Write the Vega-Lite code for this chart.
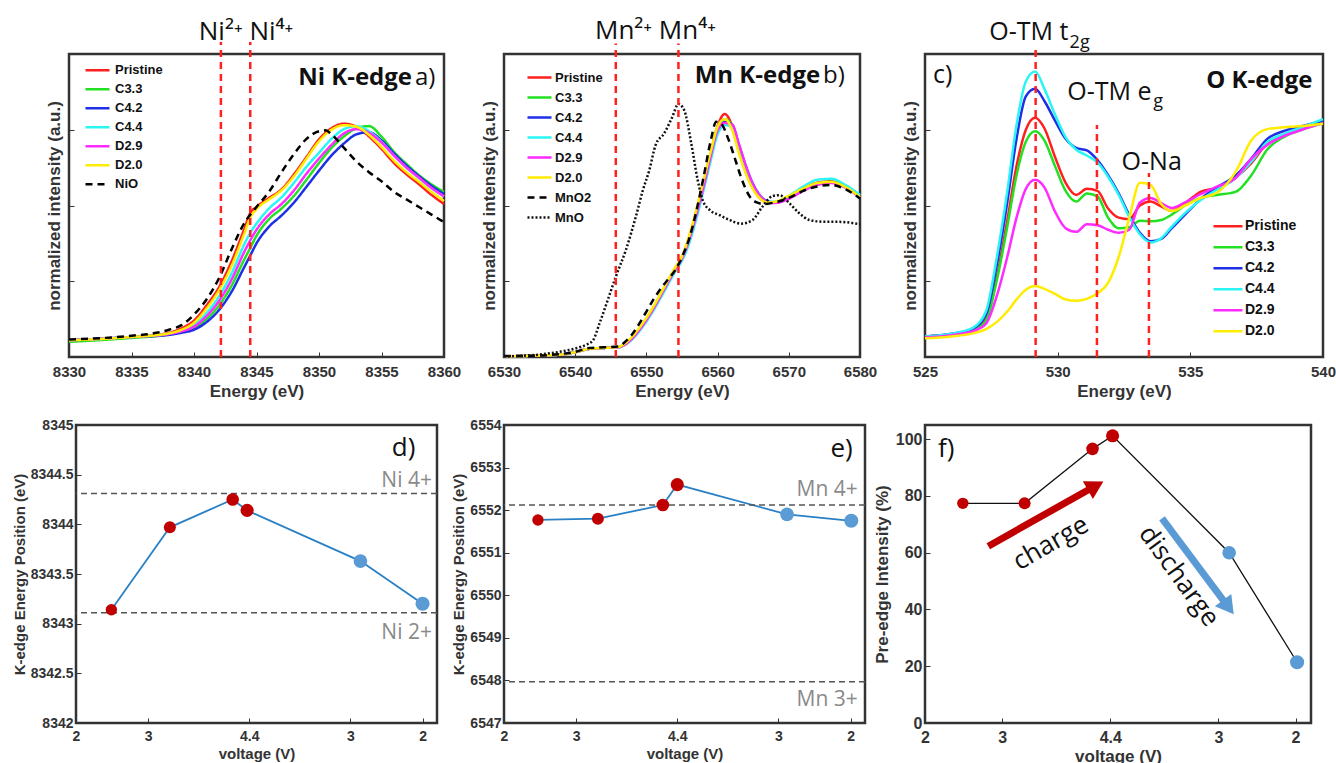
{
"$schema": "https://vega.github.io/schema/vega-lite/v6.json",
"background": "white",
"padding": {"left": 10, "top": 16, "right": 5, "bottom": 0},
"columns": 3,
"spacing": {"row": 68, "column": 60},
"bounds": "flush",
"center": true,
"resolve": {"scale": {"color": "independent", "strokeDash": "independent", "size": "independent"}},
"config": {
 "view": {"stroke": "#333333", "strokeWidth": 2.5},
 "axis": {"grid": false, "domain": false, "tickSize": -5, "tickColor": "#333333", "tickWidth": 1, "labelFont": "Liberation Sans", "labelFontWeight": "bold", "labelColor": "#333333", "titleFont": "Liberation Sans", "titleFontWeight": "bold", "titleColor": "#333333", "labelFlush": false, "labelOverlap": false},
 "legend": {"symbolType": "stroke", "symbolStrokeWidth": 2.5, "labelFont": "Liberation Sans", "labelFontWeight": "bold", "labelColor": "#111111", "padding": 0, "rowPadding": 0},
 "text": {"font": "Open Sans"}
},
"datasets": {
"ni": [
{"s":"Pristine","E":8330,"I":0.055},{"s":"Pristine","E":8335,"I":0.066},{"s":"Pristine","E":8338,"I":0.08},{"s":"Pristine","E":8339,"I":0.095},{"s":"Pristine","E":8340,"I":0.12},{"s":"Pristine","E":8341,"I":0.17},{"s":"Pristine","E":8342,"I":0.23},{"s":"Pristine","E":8343,"I":0.315},{"s":"Pristine","E":8344,"I":0.42},{"s":"Pristine","E":8344.5,"I":0.475},{"s":"Pristine","E":8345,"I":0.495},{"s":"Pristine","E":8346,"I":0.525},{"s":"Pristine","E":8347,"I":0.553},{"s":"Pristine","E":8348,"I":0.603},{"s":"Pristine","E":8349,"I":0.66},{"s":"Pristine","E":8350,"I":0.718},{"s":"Pristine","E":8351,"I":0.755},{"s":"Pristine","E":8352,"I":0.77},{"s":"Pristine","E":8353,"I":0.76},{"s":"Pristine","E":8354,"I":0.728},{"s":"Pristine","E":8355,"I":0.687},{"s":"Pristine","E":8356,"I":0.64},{"s":"Pristine","E":8357,"I":0.603},{"s":"Pristine","E":8358,"I":0.57},{"s":"Pristine","E":8359,"I":0.535},{"s":"Pristine","E":8360,"I":0.505},
{"s":"C3.3","E":8330,"I":0.05},{"s":"C3.3","E":8335,"I":0.063},{"s":"C3.3","E":8338,"I":0.074},{"s":"C3.3","E":8339,"I":0.082},{"s":"C3.3","E":8340,"I":0.095},{"s":"C3.3","E":8341,"I":0.125},{"s":"C3.3","E":8342,"I":0.17},{"s":"C3.3","E":8343,"I":0.235},{"s":"C3.3","E":8344,"I":0.32},{"s":"C3.3","E":8344.5,"I":0.36},{"s":"C3.3","E":8345,"I":0.4},{"s":"C3.3","E":8346,"I":0.455},{"s":"C3.3","E":8347,"I":0.49},{"s":"C3.3","E":8348,"I":0.532},{"s":"C3.3","E":8349,"I":0.585},{"s":"C3.3","E":8350,"I":0.64},{"s":"C3.3","E":8351,"I":0.69},{"s":"C3.3","E":8352,"I":0.728},{"s":"C3.3","E":8353,"I":0.755},{"s":"C3.3","E":8354,"I":0.762},{"s":"C3.3","E":8355,"I":0.727},{"s":"C3.3","E":8356,"I":0.677},{"s":"C3.3","E":8357,"I":0.637},{"s":"C3.3","E":8358,"I":0.6},{"s":"C3.3","E":8359,"I":0.57},{"s":"C3.3","E":8360,"I":0.545},
{"s":"C4.2","E":8330,"I":0.055},{"s":"C4.2","E":8335,"I":0.066},{"s":"C4.2","E":8338,"I":0.073},{"s":"C4.2","E":8339,"I":0.08},{"s":"C4.2","E":8340,"I":0.09},{"s":"C4.2","E":8341,"I":0.115},{"s":"C4.2","E":8342,"I":0.155},{"s":"C4.2","E":8343,"I":0.215},{"s":"C4.2","E":8344,"I":0.295},{"s":"C4.2","E":8344.5,"I":0.335},{"s":"C4.2","E":8345,"I":0.375},{"s":"C4.2","E":8346,"I":0.43},{"s":"C4.2","E":8347,"I":0.467},{"s":"C4.2","E":8348,"I":0.51},{"s":"C4.2","E":8349,"I":0.562},{"s":"C4.2","E":8350,"I":0.615},{"s":"C4.2","E":8351,"I":0.665},{"s":"C4.2","E":8352,"I":0.705},{"s":"C4.2","E":8353,"I":0.735},{"s":"C4.2","E":8354,"I":0.742},{"s":"C4.2","E":8355,"I":0.715},{"s":"C4.2","E":8356,"I":0.672},{"s":"C4.2","E":8357,"I":0.632},{"s":"C4.2","E":8358,"I":0.597},{"s":"C4.2","E":8359,"I":0.565},{"s":"C4.2","E":8360,"I":0.538},
{"s":"C4.4","E":8330,"I":0.055},{"s":"C4.4","E":8335,"I":0.066},{"s":"C4.4","E":8338,"I":0.077},{"s":"C4.4","E":8339,"I":0.087},{"s":"C4.4","E":8340,"I":0.105},{"s":"C4.4","E":8341,"I":0.145},{"s":"C4.4","E":8342,"I":0.2},{"s":"C4.4","E":8343,"I":0.275},{"s":"C4.4","E":8344,"I":0.37},{"s":"C4.4","E":8344.5,"I":0.41},{"s":"C4.4","E":8345,"I":0.44},{"s":"C4.4","E":8346,"I":0.49},{"s":"C4.4","E":8347,"I":0.527},{"s":"C4.4","E":8348,"I":0.575},{"s":"C4.4","E":8349,"I":0.628},{"s":"C4.4","E":8350,"I":0.674},{"s":"C4.4","E":8351,"I":0.72},{"s":"C4.4","E":8352,"I":0.752},{"s":"C4.4","E":8353,"I":0.762},{"s":"C4.4","E":8354,"I":0.745},{"s":"C4.4","E":8355,"I":0.71},{"s":"C4.4","E":8356,"I":0.665},{"s":"C4.4","E":8357,"I":0.625},{"s":"C4.4","E":8358,"I":0.59},{"s":"C4.4","E":8359,"I":0.557},{"s":"C4.4","E":8360,"I":0.53},
{"s":"D2.9","E":8330,"I":0.055},{"s":"D2.9","E":8335,"I":0.066},{"s":"D2.9","E":8338,"I":0.076},{"s":"D2.9","E":8339,"I":0.085},{"s":"D2.9","E":8340,"I":0.1},{"s":"D2.9","E":8341,"I":0.135},{"s":"D2.9","E":8342,"I":0.185},{"s":"D2.9","E":8343,"I":0.255},{"s":"D2.9","E":8344,"I":0.345},{"s":"D2.9","E":8344.5,"I":0.385},{"s":"D2.9","E":8345,"I":0.42},{"s":"D2.9","E":8346,"I":0.47},{"s":"D2.9","E":8347,"I":0.505},{"s":"D2.9","E":8348,"I":0.55},{"s":"D2.9","E":8349,"I":0.605},{"s":"D2.9","E":8350,"I":0.655},{"s":"D2.9","E":8351,"I":0.7},{"s":"D2.9","E":8352,"I":0.738},{"s":"D2.9","E":8353,"I":0.752},{"s":"D2.9","E":8354,"I":0.74},{"s":"D2.9","E":8355,"I":0.708},{"s":"D2.9","E":8356,"I":0.665},{"s":"D2.9","E":8357,"I":0.625},{"s":"D2.9","E":8358,"I":0.592},{"s":"D2.9","E":8359,"I":0.558},{"s":"D2.9","E":8360,"I":0.53},
{"s":"D2.0","E":8330,"I":0.055},{"s":"D2.0","E":8335,"I":0.066},{"s":"D2.0","E":8338,"I":0.078},{"s":"D2.0","E":8339,"I":0.09},{"s":"D2.0","E":8340,"I":0.113},{"s":"D2.0","E":8341,"I":0.16},{"s":"D2.0","E":8342,"I":0.22},{"s":"D2.0","E":8343,"I":0.3},{"s":"D2.0","E":8344,"I":0.405},{"s":"D2.0","E":8344.5,"I":0.46},{"s":"D2.0","E":8345,"I":0.488},{"s":"D2.0","E":8346,"I":0.52},{"s":"D2.0","E":8347,"I":0.55},{"s":"D2.0","E":8348,"I":0.597},{"s":"D2.0","E":8349,"I":0.655},{"s":"D2.0","E":8350,"I":0.712},{"s":"D2.0","E":8351,"I":0.75},{"s":"D2.0","E":8352,"I":0.765},{"s":"D2.0","E":8353,"I":0.76},{"s":"D2.0","E":8354,"I":0.733},{"s":"D2.0","E":8355,"I":0.693},{"s":"D2.0","E":8356,"I":0.648},{"s":"D2.0","E":8357,"I":0.61},{"s":"D2.0","E":8358,"I":0.578},{"s":"D2.0","E":8359,"I":0.545},{"s":"D2.0","E":8360,"I":0.515},
{"s":"NiO","E":8330,"I":0.058},{"s":"NiO","E":8335,"I":0.07},{"s":"NiO","E":8337,"I":0.08},{"s":"NiO","E":8338,"I":0.09},{"s":"NiO","E":8339,"I":0.105},{"s":"NiO","E":8340,"I":0.14},{"s":"NiO","E":8341,"I":0.19},{"s":"NiO","E":8342,"I":0.26},{"s":"NiO","E":8343,"I":0.355},{"s":"NiO","E":8344,"I":0.44},{"s":"NiO","E":8345,"I":0.495},{"s":"NiO","E":8346,"I":0.545},{"s":"NiO","E":8347,"I":0.61},{"s":"NiO","E":8348,"I":0.67},{"s":"NiO","E":8349,"I":0.72},{"s":"NiO","E":8350,"I":0.745},{"s":"NiO","E":8350.5,"I":0.748},{"s":"NiO","E":8351,"I":0.735},{"s":"NiO","E":8352,"I":0.69},{"s":"NiO","E":8353,"I":0.645},{"s":"NiO","E":8354,"I":0.61},{"s":"NiO","E":8355,"I":0.58},{"s":"NiO","E":8356,"I":0.545},{"s":"NiO","E":8357,"I":0.52},{"s":"NiO","E":8358,"I":0.495},{"s":"NiO","E":8359,"I":0.47},{"s":"NiO","E":8360,"I":0.445}
],
"mn": [
{"s":"Pristine","E":6530,"I":0.002},{"s":"Pristine","E":6535,"I":0.005},{"s":"Pristine","E":6538,"I":0.008},{"s":"Pristine","E":6540,"I":0.016},{"s":"Pristine","E":6542,"I":0.027},{"s":"Pristine","E":6544,"I":0.03},{"s":"Pristine","E":6546,"I":0.032},{"s":"Pristine","E":6547,"I":0.042},{"s":"Pristine","E":6548,"I":0.063},{"s":"Pristine","E":6549,"I":0.092},{"s":"Pristine","E":6550,"I":0.125},{"s":"Pristine","E":6551,"I":0.163},{"s":"Pristine","E":6552,"I":0.205},{"s":"Pristine","E":6553,"I":0.248},{"s":"Pristine","E":6554,"I":0.29},{"s":"Pristine","E":6555,"I":0.33},{"s":"Pristine","E":6556,"I":0.395},{"s":"Pristine","E":6557,"I":0.478},{"s":"Pristine","E":6558,"I":0.572},{"s":"Pristine","E":6559,"I":0.67},{"s":"Pristine","E":6560,"I":0.762},{"s":"Pristine","E":6561,"I":0.802},{"s":"Pristine","E":6562,"I":0.765},{"s":"Pristine","E":6563,"I":0.68},{"s":"Pristine","E":6564,"I":0.608},{"s":"Pristine","E":6565,"I":0.556},{"s":"Pristine","E":6566,"I":0.523},{"s":"Pristine","E":6567,"I":0.51},{"s":"Pristine","E":6568,"I":0.51},{"s":"Pristine","E":6570,"I":0.53},{"s":"Pristine","E":6572,"I":0.556},{"s":"Pristine","E":6574,"I":0.575},{"s":"Pristine","E":6576,"I":0.58},{"s":"Pristine","E":6578,"I":0.562},{"s":"Pristine","E":6580,"I":0.53},
{"s":"C3.3","E":6530,"I":0.002},{"s":"C3.3","E":6535,"I":0.005},{"s":"C3.3","E":6538,"I":0.008},{"s":"C3.3","E":6540,"I":0.016},{"s":"C3.3","E":6542,"I":0.027},{"s":"C3.3","E":6544,"I":0.03},{"s":"C3.3","E":6546,"I":0.032},{"s":"C3.3","E":6547,"I":0.042},{"s":"C3.3","E":6548,"I":0.063},{"s":"C3.3","E":6549,"I":0.092},{"s":"C3.3","E":6550,"I":0.125},{"s":"C3.3","E":6551,"I":0.163},{"s":"C3.3","E":6552,"I":0.205},{"s":"C3.3","E":6553,"I":0.248},{"s":"C3.3","E":6554,"I":0.29},{"s":"C3.3","E":6555,"I":0.328},{"s":"C3.3","E":6556,"I":0.39},{"s":"C3.3","E":6557,"I":0.472},{"s":"C3.3","E":6558,"I":0.566},{"s":"C3.3","E":6559,"I":0.665},{"s":"C3.3","E":6560,"I":0.752},{"s":"C3.3","E":6561,"I":0.785},{"s":"C3.3","E":6562,"I":0.765},{"s":"C3.3","E":6563,"I":0.69},{"s":"C3.3","E":6564,"I":0.618},{"s":"C3.3","E":6565,"I":0.562},{"s":"C3.3","E":6566,"I":0.527},{"s":"C3.3","E":6567,"I":0.512},{"s":"C3.3","E":6568,"I":0.51},{"s":"C3.3","E":6570,"I":0.528},{"s":"C3.3","E":6572,"I":0.553},{"s":"C3.3","E":6574,"I":0.572},{"s":"C3.3","E":6576,"I":0.578},{"s":"C3.3","E":6578,"I":0.562},{"s":"C3.3","E":6580,"I":0.532},
{"s":"C4.2","E":6530,"I":0.002},{"s":"C4.2","E":6535,"I":0.005},{"s":"C4.2","E":6538,"I":0.008},{"s":"C4.2","E":6540,"I":0.016},{"s":"C4.2","E":6542,"I":0.027},{"s":"C4.2","E":6544,"I":0.03},{"s":"C4.2","E":6546,"I":0.032},{"s":"C4.2","E":6547,"I":0.042},{"s":"C4.2","E":6548,"I":0.062},{"s":"C4.2","E":6549,"I":0.09},{"s":"C4.2","E":6550,"I":0.123},{"s":"C4.2","E":6551,"I":0.161},{"s":"C4.2","E":6552,"I":0.203},{"s":"C4.2","E":6553,"I":0.246},{"s":"C4.2","E":6554,"I":0.288},{"s":"C4.2","E":6555,"I":0.325},{"s":"C4.2","E":6556,"I":0.385},{"s":"C4.2","E":6557,"I":0.465},{"s":"C4.2","E":6558,"I":0.558},{"s":"C4.2","E":6559,"I":0.655},{"s":"C4.2","E":6560,"I":0.745},{"s":"C4.2","E":6561,"I":0.775},{"s":"C4.2","E":6562,"I":0.768},{"s":"C4.2","E":6563,"I":0.7},{"s":"C4.2","E":6564,"I":0.628},{"s":"C4.2","E":6565,"I":0.57},{"s":"C4.2","E":6566,"I":0.532},{"s":"C4.2","E":6567,"I":0.514},{"s":"C4.2","E":6568,"I":0.51},{"s":"C4.2","E":6570,"I":0.526},{"s":"C4.2","E":6572,"I":0.55},{"s":"C4.2","E":6574,"I":0.57},{"s":"C4.2","E":6576,"I":0.576},{"s":"C4.2","E":6578,"I":0.56},{"s":"C4.2","E":6580,"I":0.528},
{"s":"C4.4","E":6530,"I":0.002},{"s":"C4.4","E":6535,"I":0.005},{"s":"C4.4","E":6538,"I":0.008},{"s":"C4.4","E":6540,"I":0.016},{"s":"C4.4","E":6542,"I":0.027},{"s":"C4.4","E":6544,"I":0.03},{"s":"C4.4","E":6546,"I":0.032},{"s":"C4.4","E":6547,"I":0.04},{"s":"C4.4","E":6548,"I":0.058},{"s":"C4.4","E":6549,"I":0.085},{"s":"C4.4","E":6550,"I":0.117},{"s":"C4.4","E":6551,"I":0.154},{"s":"C4.4","E":6552,"I":0.195},{"s":"C4.4","E":6553,"I":0.238},{"s":"C4.4","E":6554,"I":0.28},{"s":"C4.4","E":6555,"I":0.318},{"s":"C4.4","E":6556,"I":0.375},{"s":"C4.4","E":6557,"I":0.455},{"s":"C4.4","E":6558,"I":0.548},{"s":"C4.4","E":6559,"I":0.645},{"s":"C4.4","E":6560,"I":0.735},{"s":"C4.4","E":6561,"I":0.765},{"s":"C4.4","E":6562,"I":0.76},{"s":"C4.4","E":6563,"I":0.695},{"s":"C4.4","E":6564,"I":0.622},{"s":"C4.4","E":6565,"I":0.565},{"s":"C4.4","E":6566,"I":0.53},{"s":"C4.4","E":6567,"I":0.513},{"s":"C4.4","E":6568,"I":0.512},{"s":"C4.4","E":6570,"I":0.532},{"s":"C4.4","E":6572,"I":0.562},{"s":"C4.4","E":6574,"I":0.585},{"s":"C4.4","E":6576,"I":0.588},{"s":"C4.4","E":6578,"I":0.567},{"s":"C4.4","E":6580,"I":0.535},
{"s":"D2.9","E":6530,"I":0.002},{"s":"D2.9","E":6535,"I":0.005},{"s":"D2.9","E":6538,"I":0.008},{"s":"D2.9","E":6540,"I":0.016},{"s":"D2.9","E":6542,"I":0.027},{"s":"D2.9","E":6544,"I":0.03},{"s":"D2.9","E":6546,"I":0.032},{"s":"D2.9","E":6547,"I":0.041},{"s":"D2.9","E":6548,"I":0.061},{"s":"D2.9","E":6549,"I":0.089},{"s":"D2.9","E":6550,"I":0.122},{"s":"D2.9","E":6551,"I":0.16},{"s":"D2.9","E":6552,"I":0.202},{"s":"D2.9","E":6553,"I":0.245},{"s":"D2.9","E":6554,"I":0.287},{"s":"D2.9","E":6555,"I":0.325},{"s":"D2.9","E":6556,"I":0.387},{"s":"D2.9","E":6557,"I":0.468},{"s":"D2.9","E":6558,"I":0.56},{"s":"D2.9","E":6559,"I":0.66},{"s":"D2.9","E":6560,"I":0.748},{"s":"D2.9","E":6561,"I":0.772},{"s":"D2.9","E":6562,"I":0.768},{"s":"D2.9","E":6563,"I":0.702},{"s":"D2.9","E":6564,"I":0.628},{"s":"D2.9","E":6565,"I":0.568},{"s":"D2.9","E":6566,"I":0.53},{"s":"D2.9","E":6567,"I":0.512},{"s":"D2.9","E":6568,"I":0.508},{"s":"D2.9","E":6570,"I":0.522},{"s":"D2.9","E":6572,"I":0.548},{"s":"D2.9","E":6574,"I":0.568},{"s":"D2.9","E":6576,"I":0.574},{"s":"D2.9","E":6578,"I":0.558},{"s":"D2.9","E":6580,"I":0.526},
{"s":"D2.0","E":6530,"I":0.002},{"s":"D2.0","E":6535,"I":0.005},{"s":"D2.0","E":6538,"I":0.008},{"s":"D2.0","E":6540,"I":0.016},{"s":"D2.0","E":6542,"I":0.027},{"s":"D2.0","E":6544,"I":0.03},{"s":"D2.0","E":6546,"I":0.033},{"s":"D2.0","E":6547,"I":0.045},{"s":"D2.0","E":6548,"I":0.067},{"s":"D2.0","E":6549,"I":0.096},{"s":"D2.0","E":6550,"I":0.129},{"s":"D2.0","E":6551,"I":0.167},{"s":"D2.0","E":6552,"I":0.209},{"s":"D2.0","E":6553,"I":0.252},{"s":"D2.0","E":6554,"I":0.294},{"s":"D2.0","E":6555,"I":0.332},{"s":"D2.0","E":6556,"I":0.4},{"s":"D2.0","E":6557,"I":0.485},{"s":"D2.0","E":6558,"I":0.58},{"s":"D2.0","E":6559,"I":0.675},{"s":"D2.0","E":6560,"I":0.76},{"s":"D2.0","E":6561,"I":0.785},{"s":"D2.0","E":6562,"I":0.752},{"s":"D2.0","E":6563,"I":0.672},{"s":"D2.0","E":6564,"I":0.603},{"s":"D2.0","E":6565,"I":0.553},{"s":"D2.0","E":6566,"I":0.522},{"s":"D2.0","E":6567,"I":0.51},{"s":"D2.0","E":6568,"I":0.512},{"s":"D2.0","E":6570,"I":0.532},{"s":"D2.0","E":6572,"I":0.556},{"s":"D2.0","E":6574,"I":0.574},{"s":"D2.0","E":6576,"I":0.578},{"s":"D2.0","E":6578,"I":0.56},{"s":"D2.0","E":6580,"I":0.528},
{"s":"MnO2","E":6530,"I":0.003},{"s":"MnO2","E":6535,"I":0.005},{"s":"MnO2","E":6538,"I":0.01},{"s":"MnO2","E":6540,"I":0.017},{"s":"MnO2","E":6542,"I":0.03},{"s":"MnO2","E":6544,"I":0.032},{"s":"MnO2","E":6546,"I":0.035},{"s":"MnO2","E":6547,"I":0.05},{"s":"MnO2","E":6548,"I":0.075},{"s":"MnO2","E":6549,"I":0.11},{"s":"MnO2","E":6550,"I":0.15},{"s":"MnO2","E":6551,"I":0.19},{"s":"MnO2","E":6552,"I":0.225},{"s":"MnO2","E":6553,"I":0.255},{"s":"MnO2","E":6554,"I":0.285},{"s":"MnO2","E":6555,"I":0.33},{"s":"MnO2","E":6556,"I":0.39},{"s":"MnO2","E":6557,"I":0.48},{"s":"MnO2","E":6558,"I":0.59},{"s":"MnO2","E":6559,"I":0.71},{"s":"MnO2","E":6559.8,"I":0.776},{"s":"MnO2","E":6560.5,"I":0.77},{"s":"MnO2","E":6561.5,"I":0.72},{"s":"MnO2","E":6562.5,"I":0.65},{"s":"MnO2","E":6563.5,"I":0.58},{"s":"MnO2","E":6564.5,"I":0.53},{"s":"MnO2","E":6565.5,"I":0.51},{"s":"MnO2","E":6566.5,"I":0.505},{"s":"MnO2","E":6568,"I":0.51},{"s":"MnO2","E":6570,"I":0.525},{"s":"MnO2","E":6572,"I":0.548},{"s":"MnO2","E":6574,"I":0.563},{"s":"MnO2","E":6576,"I":0.568},{"s":"MnO2","E":6578,"I":0.553},{"s":"MnO2","E":6580,"I":0.523},
{"s":"MnO","E":6530,"I":0.002},{"s":"MnO","E":6535,"I":0.008},{"s":"MnO","E":6538,"I":0.018},{"s":"MnO","E":6540,"I":0.028},{"s":"MnO","E":6541.5,"I":0.04},{"s":"MnO","E":6542.5,"I":0.055},{"s":"MnO","E":6543.4,"I":0.11},{"s":"MnO","E":6544.6,"I":0.19},{"s":"MnO","E":6545.7,"I":0.265},{"s":"MnO","E":6547.1,"I":0.352},{"s":"MnO","E":6548.5,"I":0.462},{"s":"MnO","E":6549.5,"I":0.55},{"s":"MnO","E":6550.4,"I":0.616},{"s":"MnO","E":6551.3,"I":0.7},{"s":"MnO","E":6552.5,"I":0.738},{"s":"MnO","E":6553.6,"I":0.79},{"s":"MnO","E":6554.5,"I":0.835},{"s":"MnO","E":6555.3,"I":0.815},{"s":"MnO","E":6556.3,"I":0.705},{"s":"MnO","E":6557.2,"I":0.584},{"s":"MnO","E":6557.9,"I":0.518},{"s":"MnO","E":6558.9,"I":0.485},{"s":"MnO","E":6560.3,"I":0.468},{"s":"MnO","E":6561.7,"I":0.452},{"s":"MnO","E":6563.3,"I":0.44},{"s":"MnO","E":6564.9,"I":0.452},{"s":"MnO","E":6566.3,"I":0.496},{"s":"MnO","E":6567.7,"I":0.531},{"s":"MnO","E":6568.7,"I":0.534},{"s":"MnO","E":6570.1,"I":0.507},{"s":"MnO","E":6571.5,"I":0.474},{"s":"MnO","E":6572.9,"I":0.452},{"s":"MnO","E":6575.2,"I":0.446},{"s":"MnO","E":6577.1,"I":0.446},{"s":"MnO","E":6580,"I":0.438}
],
"o": [
{"s":"Pristine","E":525,"I":0.068},{"s":"Pristine","E":526,"I":0.075},{"s":"Pristine","E":526.8,"I":0.09},{"s":"Pristine","E":527.3,"I":0.125},{"s":"Pristine","E":527.7,"I":0.26},{"s":"Pristine","E":528.1,"I":0.45},{"s":"Pristine","E":528.45,"I":0.63},{"s":"Pristine","E":528.8,"I":0.75},{"s":"Pristine","E":529.15,"I":0.79},{"s":"Pristine","E":529.5,"I":0.755},{"s":"Pristine","E":529.9,"I":0.66},{"s":"Pristine","E":530.3,"I":0.575},{"s":"Pristine","E":530.7,"I":0.535},{"s":"Pristine","E":531.1,"I":0.555},{"s":"Pristine","E":531.5,"I":0.548},{"s":"Pristine","E":531.9,"I":0.49},{"s":"Pristine","E":532.3,"I":0.46},{"s":"Pristine","E":532.7,"I":0.455},{"s":"Pristine","E":533.1,"I":0.5},{"s":"Pristine","E":533.5,"I":0.513},{"s":"Pristine","E":533.9,"I":0.497},{"s":"Pristine","E":534.3,"I":0.482},{"s":"Pristine","E":534.8,"I":0.508},{"s":"Pristine","E":535.4,"I":0.546},{"s":"Pristine","E":536,"I":0.558},{"s":"Pristine","E":536.7,"I":0.592},{"s":"Pristine","E":537.3,"I":0.64},{"s":"Pristine","E":537.9,"I":0.705},{"s":"Pristine","E":538.5,"I":0.73},{"s":"Pristine","E":539.2,"I":0.752},{"s":"Pristine","E":540,"I":0.775},
{"s":"C3.3","E":525,"I":0.065},{"s":"C3.3","E":526,"I":0.073},{"s":"C3.3","E":526.8,"I":0.088},{"s":"C3.3","E":527.3,"I":0.12},{"s":"C3.3","E":527.7,"I":0.25},{"s":"C3.3","E":528.1,"I":0.43},{"s":"C3.3","E":528.45,"I":0.6},{"s":"C3.3","E":528.8,"I":0.71},{"s":"C3.3","E":529.15,"I":0.745},{"s":"C3.3","E":529.5,"I":0.715},{"s":"C3.3","E":529.9,"I":0.63},{"s":"C3.3","E":530.3,"I":0.548},{"s":"C3.3","E":530.7,"I":0.513},{"s":"C3.3","E":531.1,"I":0.54},{"s":"C3.3","E":531.5,"I":0.53},{"s":"C3.3","E":531.9,"I":0.46},{"s":"C3.3","E":532.3,"I":0.425},{"s":"C3.3","E":532.7,"I":0.428},{"s":"C3.3","E":533.1,"I":0.45},{"s":"C3.3","E":533.5,"I":0.448},{"s":"C3.3","E":533.9,"I":0.452},{"s":"C3.3","E":534.3,"I":0.47},{"s":"C3.3","E":534.8,"I":0.5},{"s":"C3.3","E":535.4,"I":0.525},{"s":"C3.3","E":536,"I":0.535},{"s":"C3.3","E":536.7,"I":0.545},{"s":"C3.3","E":537.3,"I":0.6},{"s":"C3.3","E":537.9,"I":0.685},{"s":"C3.3","E":538.5,"I":0.725},{"s":"C3.3","E":539.2,"I":0.75},{"s":"C3.3","E":540,"I":0.772},
{"s":"C4.2","E":525,"I":0.068},{"s":"C4.2","E":526,"I":0.077},{"s":"C4.2","E":526.8,"I":0.093},{"s":"C4.2","E":527.3,"I":0.14},{"s":"C4.2","E":527.7,"I":0.3},{"s":"C4.2","E":528.1,"I":0.51},{"s":"C4.2","E":528.45,"I":0.72},{"s":"C4.2","E":528.8,"I":0.86},{"s":"C4.2","E":529.15,"I":0.885},{"s":"C4.2","E":529.5,"I":0.845},{"s":"C4.2","E":529.9,"I":0.78},{"s":"C4.2","E":530.3,"I":0.72},{"s":"C4.2","E":530.7,"I":0.69},{"s":"C4.2","E":531.1,"I":0.682},{"s":"C4.2","E":531.5,"I":0.65},{"s":"C4.2","E":531.9,"I":0.6},{"s":"C4.2","E":532.3,"I":0.54},{"s":"C4.2","E":532.7,"I":0.468},{"s":"C4.2","E":533.1,"I":0.41},{"s":"C4.2","E":533.5,"I":0.382},{"s":"C4.2","E":533.9,"I":0.39},{"s":"C4.2","E":534.3,"I":0.425},{"s":"C4.2","E":534.8,"I":0.47},{"s":"C4.2","E":535.4,"I":0.522},{"s":"C4.2","E":536,"I":0.56},{"s":"C4.2","E":536.7,"I":0.598},{"s":"C4.2","E":537.3,"I":0.655},{"s":"C4.2","E":537.9,"I":0.72},{"s":"C4.2","E":538.5,"I":0.745},{"s":"C4.2","E":539.2,"I":0.762},{"s":"C4.2","E":540,"I":0.78},
{"s":"C4.4","E":525,"I":0.068},{"s":"C4.4","E":526,"I":0.077},{"s":"C4.4","E":526.8,"I":0.096},{"s":"C4.4","E":527.3,"I":0.151},{"s":"C4.4","E":527.7,"I":0.326},{"s":"C4.4","E":528.1,"I":0.546},{"s":"C4.4","E":528.45,"I":0.766},{"s":"C4.4","E":528.8,"I":0.909},{"s":"C4.4","E":529.15,"I":0.942},{"s":"C4.4","E":529.5,"I":0.885},{"s":"C4.4","E":529.9,"I":0.8},{"s":"C4.4","E":530.3,"I":0.725},{"s":"C4.4","E":530.7,"I":0.684},{"s":"C4.4","E":531.1,"I":0.665},{"s":"C4.4","E":531.5,"I":0.642},{"s":"C4.4","E":531.9,"I":0.595},{"s":"C4.4","E":532.3,"I":0.535},{"s":"C4.4","E":532.7,"I":0.462},{"s":"C4.4","E":533.1,"I":0.405},{"s":"C4.4","E":533.5,"I":0.378},{"s":"C4.4","E":533.9,"I":0.392},{"s":"C4.4","E":534.3,"I":0.43},{"s":"C4.4","E":534.8,"I":0.475},{"s":"C4.4","E":535.4,"I":0.519},{"s":"C4.4","E":536,"I":0.552},{"s":"C4.4","E":536.7,"I":0.59},{"s":"C4.4","E":537.3,"I":0.645},{"s":"C4.4","E":537.9,"I":0.71},{"s":"C4.4","E":538.5,"I":0.735},{"s":"C4.4","E":539.2,"I":0.758},{"s":"C4.4","E":540,"I":0.785},
{"s":"D2.9","E":525,"I":0.065},{"s":"D2.9","E":526,"I":0.072},{"s":"D2.9","E":526.8,"I":0.085},{"s":"D2.9","E":527.3,"I":0.11},{"s":"D2.9","E":527.7,"I":0.2},{"s":"D2.9","E":528.1,"I":0.33},{"s":"D2.9","E":528.45,"I":0.46},{"s":"D2.9","E":528.8,"I":0.555},{"s":"D2.9","E":529.15,"I":0.585},{"s":"D2.9","E":529.5,"I":0.56},{"s":"D2.9","E":529.9,"I":0.48},{"s":"D2.9","E":530.3,"I":0.425},{"s":"D2.9","E":530.7,"I":0.413},{"s":"D2.9","E":531.1,"I":0.438},{"s":"D2.9","E":531.5,"I":0.435},{"s":"D2.9","E":531.9,"I":0.42},{"s":"D2.9","E":532.3,"I":0.41},{"s":"D2.9","E":532.7,"I":0.42},{"s":"D2.9","E":533.1,"I":0.51},{"s":"D2.9","E":533.5,"I":0.525},{"s":"D2.9","E":533.9,"I":0.508},{"s":"D2.9","E":534.3,"I":0.492},{"s":"D2.9","E":534.8,"I":0.51},{"s":"D2.9","E":535.4,"I":0.538},{"s":"D2.9","E":536,"I":0.562},{"s":"D2.9","E":536.7,"I":0.59},{"s":"D2.9","E":537.3,"I":0.655},{"s":"D2.9","E":537.9,"I":0.7},{"s":"D2.9","E":538.5,"I":0.728},{"s":"D2.9","E":539.2,"I":0.75},{"s":"D2.9","E":540,"I":0.772},
{"s":"D2.0","E":525,"I":0.062},{"s":"D2.0","E":526,"I":0.068},{"s":"D2.0","E":526.8,"I":0.078},{"s":"D2.0","E":527.3,"I":0.092},{"s":"D2.0","E":527.7,"I":0.115},{"s":"D2.0","E":528.1,"I":0.15},{"s":"D2.0","E":528.45,"I":0.19},{"s":"D2.0","E":528.8,"I":0.222},{"s":"D2.0","E":529.15,"I":0.234},{"s":"D2.0","E":529.5,"I":0.225},{"s":"D2.0","E":529.9,"I":0.208},{"s":"D2.0","E":530.3,"I":0.19},{"s":"D2.0","E":530.7,"I":0.186},{"s":"D2.0","E":531.1,"I":0.192},{"s":"D2.0","E":531.5,"I":0.21},{"s":"D2.0","E":531.9,"I":0.245},{"s":"D2.0","E":532.3,"I":0.33},{"s":"D2.0","E":532.7,"I":0.46},{"s":"D2.0","E":533.1,"I":0.575},{"s":"D2.0","E":533.5,"I":0.568},{"s":"D2.0","E":533.9,"I":0.505},{"s":"D2.0","E":534.3,"I":0.482},{"s":"D2.0","E":534.8,"I":0.5},{"s":"D2.0","E":535.4,"I":0.525},{"s":"D2.0","E":536,"I":0.542},{"s":"D2.0","E":536.7,"I":0.61},{"s":"D2.0","E":537.3,"I":0.715},{"s":"D2.0","E":537.9,"I":0.752},{"s":"D2.0","E":538.5,"I":0.758},{"s":"D2.0","E":539.2,"I":0.762},{"s":"D2.0","E":540,"I":0.77}
],
"phase": [
{"s":"Pristine","p":"charge","ni":8343.14,"xn":0.49,"mn":6551.77,"xm":0.47,"pre":77.4,"xp":0.49},
{"s":"C3.3","p":"charge","ni":8343.97,"xn":1.3,"mn":6551.8,"xm":1.3,"pre":77.4,"xp":1.29},
{"s":"C4.2","p":"charge","ni":8344.25,"xn":2.17,"mn":6552.12,"xm":2.2,"pre":96.6,"xp":2.17},
{"s":"C4.4","p":"charge","ni":8344.14,"xn":2.37,"mn":6552.6,"xm":2.4,"pre":101.2,"xp":2.43},
{"s":"D2.9","p":"discharge","ni":8343.63,"xn":3.94,"mn":6551.9,"xm":3.92,"pre":60,"xp":3.94},
{"s":"D2.0","p":"discharge","ni":8343.2,"xn":4.8,"mn":6551.75,"xm":4.81,"pre":21.4,"xp":4.82}
]
},
"concat": [
{
 "width": 375, "height": 303,
 "layer": [
  {"data": {"name": "ni"},
   "mark": {"type": "line", "strokeWidth": 2.5, "interpolate": "monotone"},
   "encoding": {
    "x": {"field": "E", "type": "quantitative", "scale": {"domain": [8330, 8360], "nice": false, "zero": false}, "axis": {"values": [8330, 8335, 8340, 8345, 8350, 8355, 8360], "format": "d", "title": "Energy (eV)", "labelFontSize": 15, "titleFontSize": 17, "labelPadding": 12, "titlePadding": 4}},
    "y": {"field": "I", "type": "quantitative", "scale": {"domain": [0, 1], "nice": false}, "axis": {"labels": false, "values": [0, 0.25, 0.5, 0.75, 1], "title": "normalized intensity (a.u.)", "titleFontSize": 17, "titlePadding": 5}},
    "color": {"field": "s", "type": "nominal", "scale": {"domain": ["Pristine", "C3.3", "C4.2", "C4.4", "D2.9", "D2.0", "NiO"], "range": ["#ff1f1f", "#22e022", "#1f2fe6", "#2af5f5", "#ff2aff", "#ffec00", "#000000"]}, "legend": {"orient": "none", "legendX": 15, "legendY": 7, "title": null, "labelFontSize": 13, "symbolSize": 576, "clipHeight": 18.4, "labelOffset": 4}},
    "strokeDash": {"field": "s", "type": "nominal", "scale": {"domain": ["Pristine", "C3.3", "C4.2", "C4.4", "D2.9", "D2.0", "NiO"], "range": [[1, 0], [1, 0], [1, 0], [1, 0], [1, 0], [1, 0], [7, 5]]}, "legend": {"orient": "none", "legendX": 15, "legendY": 7, "title": null, "labelFontSize": 13, "symbolSize": 576, "clipHeight": 18.4, "labelOffset": 4}}
   }},
  {"data": {"values": [{"x": 8342.15, "b": 0, "top": 1.04}, {"x": 8344.5, "b": 0, "top": 1.04}]},
   "mark": {"type": "rule", "color": "#ff2020", "strokeWidth": 2.5, "strokeDash": [7, 5]},
   "encoding": {"x": {"field": "x", "type": "quantitative"}, "y": {"field": "b", "type": "quantitative"}, "y2": {"field": "top"}}},
  {"data": {"values": [{"x": 8344.16, "y": 1.046, "t": "Ni²⁺ Ni⁴⁺"}]},
   "mark": {"type": "text", "fontSize": 26, "align": "center", "baseline": "alphabetic", "color": "#111111"},
   "encoding": {"x": {"field": "x", "type": "quantitative"}, "y": {"field": "y", "type": "quantitative"}, "text": {"field": "t", "type": "nominal"}}},
  {"data": {"values": [{"x": 8357.44, "y": 0.898, "t": "Ni K-edge"}]},
   "mark": {"type": "text", "fontSize": 24, "fontWeight": "bold", "align": "right", "baseline": "alphabetic", "color": "#111111"},
   "encoding": {"x": {"field": "x", "type": "quantitative"}, "y": {"field": "y", "type": "quantitative"}, "text": {"field": "t", "type": "nominal"}}},
  {"data": {"values": [{"x": 8357.68, "y": 0.898, "t": "a)"}]},
   "mark": {"type": "text", "fontSize": 24, "align": "left", "baseline": "alphabetic", "color": "#111111"},
   "encoding": {"x": {"field": "x", "type": "quantitative"}, "y": {"field": "y", "type": "quantitative"}, "text": {"field": "t", "type": "nominal"}}}
 ]
},
{
 "width": 356, "height": 303,
 "layer": [
  {"data": {"name": "mn"},
   "mark": {"type": "line", "strokeWidth": 2.5, "interpolate": "monotone"},
   "encoding": {
    "x": {"field": "E", "type": "quantitative", "scale": {"domain": [6530, 6580], "nice": false, "zero": false}, "axis": {"values": [6530, 6540, 6550, 6560, 6570, 6580], "format": "d", "title": "Energy (eV)", "labelFontSize": 15, "titleFontSize": 17, "labelPadding": 12, "titlePadding": 4}},
    "y": {"field": "I", "type": "quantitative", "scale": {"domain": [0, 1], "nice": false}, "axis": {"labels": false, "values": [0, 0.25, 0.5, 0.75, 1], "title": "normalized intensity (a.u.)", "titleFontSize": 17, "titlePadding": 5}},
    "color": {"field": "s", "type": "nominal", "scale": {"domain": ["Pristine", "C3.3", "C4.2", "C4.4", "D2.9", "D2.0", "MnO2", "MnO"], "range": ["#ff1f1f", "#22e022", "#1f2fe6", "#2af5f5", "#ff2aff", "#ffec00", "#000000", "#111111"]}, "legend": {"orient": "none", "legendX": 22, "legendY": 14, "title": null, "labelFontSize": 13, "symbolSize": 576, "clipHeight": 19.2, "labelOffset": 2}},
    "strokeDash": {"field": "s", "type": "nominal", "scale": {"domain": ["Pristine", "C3.3", "C4.2", "C4.4", "D2.9", "D2.0", "MnO2", "MnO"], "range": [[1, 0], [1, 0], [1, 0], [1, 0], [1, 0], [1, 0], [7, 5], [2, 2]]}, "legend": {"orient": "none", "legendX": 22, "legendY": 14, "title": null, "labelFontSize": 13, "symbolSize": 576, "clipHeight": 19.2, "labelOffset": 2}}
   }},
  {"data": {"values": [{"x": 6545.7, "b": 0, "top": 1.035}, {"x": 6554.5, "b": 0, "top": 1.035}]},
   "mark": {"type": "rule", "color": "#ff2020", "strokeWidth": 2.5, "strokeDash": [7, 5]},
   "encoding": {"x": {"field": "x", "type": "quantitative"}, "y": {"field": "b", "type": "quantitative"}, "y2": {"field": "top"}}},
  {"data": {"values": [{"x": 6551.27, "y": 1.05, "t": "Mn²⁺ Mn⁴⁺"}]},
   "mark": {"type": "text", "fontSize": 26, "align": "center", "baseline": "alphabetic", "color": "#111111"},
   "encoding": {"x": {"field": "x", "type": "quantitative"}, "y": {"field": "y", "type": "quantitative"}, "text": {"field": "t", "type": "nominal"}}},
  {"data": {"values": [{"x": 6574.4, "y": 0.903, "t": "Mn K-edge"}]},
   "mark": {"type": "text", "fontSize": 24, "fontWeight": "bold", "align": "right", "baseline": "alphabetic", "color": "#111111"},
   "encoding": {"x": {"field": "x", "type": "quantitative"}, "y": {"field": "y", "type": "quantitative"}, "text": {"field": "t", "type": "nominal"}}},
  {"data": {"values": [{"x": 6574.8, "y": 0.903, "t": "b)"}]},
   "mark": {"type": "text", "fontSize": 24, "align": "left", "baseline": "alphabetic", "color": "#111111"},
   "encoding": {"x": {"field": "x", "type": "quantitative"}, "y": {"field": "y", "type": "quantitative"}, "text": {"field": "t", "type": "nominal"}}}
 ]
},
{
 "width": 398, "height": 303,
 "layer": [
  {"data": {"name": "o"},
   "mark": {"type": "line", "strokeWidth": 2.5, "interpolate": "monotone"},
   "encoding": {
    "x": {"field": "E", "type": "quantitative", "scale": {"domain": [525, 540], "nice": false, "zero": false}, "axis": {"values": [525, 530, 535, 540], "format": "d", "title": "Energy (eV)", "labelFontSize": 15, "titleFontSize": 17, "labelPadding": 12, "titlePadding": 4}},
    "y": {"field": "I", "type": "quantitative", "scale": {"domain": [0, 1], "nice": false}, "axis": {"labels": false, "values": [0, 0.25, 0.5, 0.75, 1], "title": "normalized intensity (a.u.)", "titleFontSize": 17, "titlePadding": 5}},
    "color": {"field": "s", "type": "nominal", "scale": {"domain": ["Pristine", "C3.3", "C4.2", "C4.4", "D2.9", "D2.0"], "range": ["#ff1f1f", "#22e022", "#1f2fe6", "#2af5f5", "#ff2aff", "#ffec00"]}, "legend": {"orient": "none", "legendX": 287, "legendY": 162, "title": null, "labelFontSize": 14, "symbolSize": 841, "clipHeight": 20.3, "labelOffset": 1}}
   }},
  {"data": {"values": [{"x": 529.17, "b": 0, "top": 1.03}, {"x": 531.48, "b": 0, "top": 0.766}, {"x": 533.44, "b": 0, "top": 0.607}]},
   "mark": {"type": "rule", "color": "#ff2020", "strokeWidth": 2.5, "strokeDash": [7, 5]},
   "encoding": {"x": {"field": "x", "type": "quantitative"}, "y": {"field": "b", "type": "quantitative"}, "y2": {"field": "top"}}},
  {"data": {"values": [{"x": 530.405, "y": 1.046, "t": "O-TM t"}, {"x": 533.54, "y": 0.848, "t": "O-TM e"}]},
   "mark": {"type": "text", "fontSize": 25, "align": "right", "baseline": "alphabetic", "color": "#111111"},
   "encoding": {"x": {"field": "x", "type": "quantitative"}, "y": {"field": "y", "type": "quantitative"}, "text": {"field": "t", "type": "nominal"}}},
  {"data": {"values": [{"x": 532.41, "y": 0.618, "t": "O-Na"}, {"x": 525.3, "y": 0.903, "t": "c)"}]},
   "mark": {"type": "text", "fontSize": 25, "align": "left", "baseline": "alphabetic", "color": "#111111"},
   "encoding": {"x": {"field": "x", "type": "quantitative"}, "y": {"field": "y", "type": "quantitative"}, "text": {"field": "t", "type": "nominal"}}},
  {"data": {"values": [{"x": 530.45, "y": 1.019, "t": "2g"}, {"x": 533.6, "y": 0.826, "t": "g"}]},
   "mark": {"type": "text", "fontSize": 18, "align": "left", "baseline": "alphabetic", "color": "#111111"},
   "encoding": {"x": {"field": "x", "type": "quantitative"}, "y": {"field": "y", "type": "quantitative"}, "text": {"field": "t", "type": "nominal"}}},
  {"data": {"values": [{"x": 539.6, "y": 0.887, "t": "O K-edge"}]},
   "mark": {"type": "text", "fontSize": 24, "fontWeight": "bold", "align": "right", "baseline": "alphabetic", "color": "#111111"},
   "encoding": {"x": {"field": "x", "type": "quantitative"}, "y": {"field": "y", "type": "quantitative"}, "text": {"field": "t", "type": "nominal"}}}
 ]
},
{
 "width": 361, "height": 298,
 "layer": [
  {"data": {"name": "phase"},
   "mark": {"type": "line", "color": "#2a80c4", "strokeWidth": 1.8},
   "encoding": {
    "x": {"field": "xn", "type": "quantitative", "scale": {"domain": [0, 5], "nice": false, "zero": false}, "axis": {"values": [0, 1, 2.4, 3.8, 4.8], "labelExpr": "datum.value < 0.5 ? '2' : datum.value < 1.5 ? '3' : datum.value < 3 ? '4.4' : datum.value < 4.3 ? '3' : '2'", "title": "voltage (V)", "labelFontSize": 14, "titleFontSize": 15, "labelPadding": 11, "titlePadding": 3}},
    "y": {"field": "ni", "type": "quantitative", "scale": {"domain": [8342, 8345], "nice": false, "zero": false}, "axis": {"values": [8342, 8342.5, 8343, 8343.5, 8344, 8344.5, 8345], "format": "~f", "title": "K-edge Energy Position (eV)", "labelFontSize": 14, "titleFontSize": 15, "labelPadding": 8, "titlePadding": 3}}
   }},
  {"data": {"values": [{"y": 8344.31}, {"y": 8343.11}]},
   "mark": {"type": "rule", "color": "#555555", "strokeWidth": 1.5, "strokeDash": [6, 4]},
   "encoding": {"y": {"field": "y", "type": "quantitative"}}},
  {"data": {"name": "phase"},
   "mark": {"type": "point", "filled": true, "opacity": 1},
   "encoding": {
    "x": {"field": "xn", "type": "quantitative"},
    "y": {"field": "ni", "type": "quantitative"},
    "color": {"field": "p", "type": "nominal", "scale": {"domain": ["charge", "discharge"], "range": ["#c00000", "#5b9bd5"]}, "legend": null},
    "size": {"field": "s", "type": "nominal", "scale": {"domain": ["Pristine", "C3.3", "C4.2", "C4.4", "D2.9", "D2.0"], "range": [130, 200, 200, 190, 190, 190]}, "legend": null}
   }},
  {"data": {"values": [{"x": 4.93, "y": 8344.373, "t": "Ni 4+"}, {"x": 4.93, "y": 8342.85, "t": "Ni 2+"}]},
   "mark": {"type": "text", "fontSize": 21, "align": "right", "baseline": "alphabetic", "color": "#8a8a8a"},
   "encoding": {"x": {"field": "x", "type": "quantitative"}, "y": {"field": "y", "type": "quantitative"}, "text": {"field": "t", "type": "nominal"}}},
  {"data": {"values": [{"x": 4.7, "y": 8344.685, "t": "d)"}]},
   "mark": {"type": "text", "fontSize": 26, "align": "right", "baseline": "alphabetic", "color": "#111111"},
   "encoding": {"x": {"field": "x", "type": "quantitative"}, "y": {"field": "y", "type": "quantitative"}, "text": {"field": "t", "type": "nominal"}}}
 ]
},
{
 "width": 361, "height": 298,
 "layer": [
  {"data": {"name": "phase"},
   "mark": {"type": "line", "color": "#2a80c4", "strokeWidth": 1.8},
   "encoding": {
    "x": {"field": "xm", "type": "quantitative", "scale": {"domain": [0, 5], "nice": false, "zero": false}, "axis": {"values": [0, 1, 2.4, 3.8, 4.8], "labelExpr": "datum.value < 0.5 ? '2' : datum.value < 1.5 ? '3' : datum.value < 3 ? '4.4' : datum.value < 4.3 ? '3' : '2'", "title": "voltage (V)", "labelFontSize": 14, "titleFontSize": 15, "labelPadding": 11, "titlePadding": 3}},
    "y": {"field": "mn", "type": "quantitative", "scale": {"domain": [6547, 6554], "nice": false, "zero": false}, "axis": {"values": [6547, 6548, 6549, 6550, 6551, 6552, 6553, 6554], "format": "d", "title": "K-edge Energy Position (eV)", "labelFontSize": 14, "titleFontSize": 15, "labelPadding": 8, "titlePadding": 3}}
   }},
  {"data": {"values": [{"y": 6552.12}, {"y": 6547.97}]},
   "mark": {"type": "rule", "color": "#555555", "strokeWidth": 1.5, "strokeDash": [6, 4]},
   "encoding": {"y": {"field": "y", "type": "quantitative"}}},
  {"data": {"name": "phase"},
   "mark": {"type": "point", "filled": true, "opacity": 1},
   "encoding": {
    "x": {"field": "xm", "type": "quantitative"},
    "y": {"field": "mn", "type": "quantitative"},
    "color": {"field": "p", "type": "nominal", "scale": {"domain": ["charge", "discharge"], "range": ["#c00000", "#5b9bd5"]}, "legend": null},
    "size": {"field": "s", "type": "nominal", "scale": {"domain": ["Pristine", "C3.3", "C4.2", "C4.4", "D2.9", "D2.0"], "range": [130, 200, 180, 200, 200, 190]}, "legend": null}
   }},
  {"data": {"values": [{"x": 4.9, "y": 6552.33, "t": "Mn 4+"}, {"x": 4.9, "y": 6547.39, "t": "Mn 3+"}]},
   "mark": {"type": "text", "fontSize": 21, "align": "right", "baseline": "alphabetic", "color": "#8a8a8a"},
   "encoding": {"x": {"field": "x", "type": "quantitative"}, "y": {"field": "y", "type": "quantitative"}, "text": {"field": "t", "type": "nominal"}}},
  {"data": {"values": [{"x": 4.83, "y": 6553.26, "t": "e)"}]},
   "mark": {"type": "text", "fontSize": 26, "align": "right", "baseline": "alphabetic", "color": "#111111"},
   "encoding": {"x": {"field": "x", "type": "quantitative"}, "y": {"field": "y", "type": "quantitative"}, "text": {"field": "t", "type": "nominal"}}}
 ]
},
{
 "width": 386, "height": 298,
 "layer": [
  {"data": {"name": "phase"},
   "mark": {"type": "line", "color": "#111111", "strokeWidth": 1.3},
   "encoding": {
    "x": {"field": "xp", "type": "quantitative", "scale": {"domain": [0, 5], "nice": false, "zero": false}, "axis": {"values": [0, 1, 2.4, 3.8, 4.8], "labelExpr": "datum.value < 0.5 ? '2' : datum.value < 1.5 ? '3' : datum.value < 3 ? '4.4' : datum.value < 4.3 ? '3' : '2'", "title": "voltage (V)", "labelFontSize": 16, "titleFontSize": 17, "labelPadding": 11, "titlePadding": 3}},
    "y": {"field": "pre", "type": "quantitative", "scale": {"domain": [0, 105], "nice": false, "zero": false}, "axis": {"values": [0, 20, 40, 60, 80, 100], "format": "d", "title": "Pre-edge Intensity (%)", "labelFontSize": 16, "titleFontSize": 17, "labelPadding": 8, "titlePadding": 4}}
   }},
  {"data": {"name": "phase"},
   "mark": {"type": "point", "filled": true, "opacity": 1},
   "encoding": {
    "x": {"field": "xp", "type": "quantitative"},
    "y": {"field": "pre", "type": "quantitative"},
    "color": {"field": "p", "type": "nominal", "scale": {"domain": ["charge", "discharge"], "range": ["#c00000", "#5b9bd5"]}, "legend": null},
    "size": {"field": "s", "type": "nominal", "scale": {"domain": ["Pristine", "C3.3", "C4.2", "C4.4", "D2.9", "D2.0"], "range": [130, 200, 200, 200, 180, 190]}, "legend": null}
   }},
  {"data": {"values": [{"x": 0.82, "y": 62.3, "x2": 2.21, "y2": 83.6, "p": "charge"}, {"x": 3.07, "y": 72.1, "x2": 3.93, "y2": 40.8, "p": "discharge"}]},
   "mark": {"type": "rule", "strokeWidth": 7},
   "encoding": {"x": {"field": "x", "type": "quantitative"}, "y": {"field": "y", "type": "quantitative"}, "x2": {"field": "x2"}, "y2": {"field": "y2"}, "color": {"field": "p", "type": "nominal", "legend": null}}},
  {"data": {"values": [{"x": 2.21, "y": 83.6, "p": "charge"}]},
   "mark": {"type": "point", "shape": "triangle-right", "filled": true, "opacity": 1, "size": 420, "angle": 330.6},
   "encoding": {"x": {"field": "x", "type": "quantitative"}, "y": {"field": "y", "type": "quantitative"}, "color": {"field": "p", "type": "nominal", "legend": null}}},
  {"data": {"values": [{"x": 3.93, "y": 40.8, "p": "discharge"}]},
   "mark": {"type": "point", "shape": "triangle-right", "filled": true, "opacity": 1, "size": 420, "angle": 53.2},
   "encoding": {"x": {"field": "x", "type": "quantitative"}, "y": {"field": "y", "type": "quantitative"}, "color": {"field": "p", "type": "nominal", "legend": null}}},
  {"data": {"values": [{"x": 1.63, "y": 63.3, "t": "charge"}]},
   "mark": {"type": "text", "fontSize": 26, "align": "center", "baseline": "middle", "angle": 330, "color": "#111111"},
   "encoding": {"x": {"field": "x", "type": "quantitative"}, "y": {"field": "y", "type": "quantitative"}, "text": {"field": "t", "type": "nominal"}}},
  {"data": {"values": [{"x": 3.29, "y": 51.7, "t": "discharge"}]},
   "mark": {"type": "text", "fontSize": 26, "align": "center", "baseline": "middle", "angle": 54, "color": "#111111"},
   "encoding": {"x": {"field": "x", "type": "quantitative"}, "y": {"field": "y", "type": "quantitative"}, "text": {"field": "t", "type": "nominal"}}},
  {"data": {"values": [{"x": 0.17, "y": 93.9, "t": "f)"}]},
   "mark": {"type": "text", "fontSize": 26, "align": "left", "baseline": "alphabetic", "color": "#111111"},
   "encoding": {"x": {"field": "x", "type": "quantitative"}, "y": {"field": "y", "type": "quantitative"}, "text": {"field": "t", "type": "nominal"}}}
 ]
}
]
}
